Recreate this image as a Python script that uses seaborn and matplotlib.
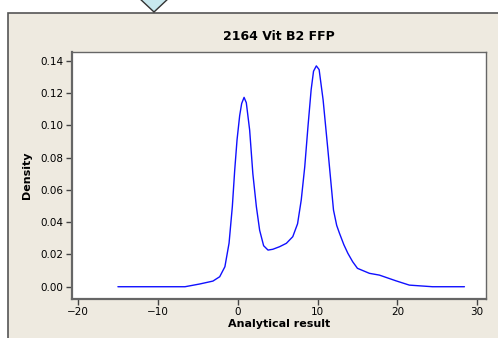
import matplotlib
matplotlib.use("Agg")
import matplotlib.pyplot as plt
from matplotlib.patches import Rectangle, Polygon
import seaborn as sns
import pandas as pd

sns.set_style("white")

# density curve
result = [-15.0, -10.0, -6.6, -4.75, -3.1, -2.25, -1.6, -1.08, -0.67, -0.375, -0.08,
          0.25, 0.5, 0.8, 1.08, 1.5, 1.9, 2.34, 2.75, 3.25, 3.8, 4.4, 5.25, 6.1, 6.9,
          7.5, 7.96, 8.4, 8.8, 9.2, 9.5, 9.85, 10.2, 10.7, 11.3, 12.0, 12.4, 12.75,
          13.3, 13.8, 14.4, 15.0, 16.5, 17.75, 19.8, 21.5, 24.4, 28.4]
density = [0.0, 0.0, 0.0, 0.0017, 0.0035, 0.0062, 0.0124, 0.027, 0.0496, 0.072, 0.091,
           0.106, 0.1135, 0.1173, 0.114, 0.097, 0.070, 0.0496, 0.035, 0.0254, 0.0227,
           0.0232, 0.0248, 0.0269, 0.031, 0.039, 0.0537, 0.0743, 0.099, 0.122, 0.1335,
           0.1368, 0.1345, 0.1157, 0.0847, 0.0475, 0.038, 0.0331, 0.026, 0.0207, 0.0155,
           0.0114, 0.0083, 0.0072, 0.0037, 0.001, 0.0, 0.0]
df = pd.DataFrame({"result": result, "density": density})

W, H = 498, 338
fig = plt.figure(figsize=(W / 100, H / 100), dpi=100)
fig.patch.set_facecolor("white")

# beige panel with dark border, and the diamond marker cut off at the top
fig.patches.append(Rectangle((8 / W, -0.1), 1.0, (H - 13) / H + 0.1, transform=fig.transFigure,
                             facecolor="#EEEAE0", edgecolor="#555555", linewidth=1.2, zorder=-2))
fig.patches.append(Polygon([(134 / W, 1.02), (154 / W, (H - 12) / H), (174 / W, 1.02)],
                           closed=True, transform=fig.transFigure,
                           facecolor="#C8E8EE", edgecolor="#333333", linewidth=1.0, zorder=-1))

ax = fig.add_axes([72 / W, (H - 299) / H, (486 - 72) / W, (299 - 52) / H])
ax.set_zorder(1)
ax.set_facecolor("white")
sns.lineplot(data=df, x="result", y="density", color="#1010FF", linewidth=1.0, ax=ax, sort=False)

ax.set_xlim(-20.75, 31.1)
ax.set_ylim(-0.0076, 0.1454)
ax.set_xticks([-20, -10, 0, 10, 20, 30])
ax.set_yticks([0.0, 0.02, 0.04, 0.06, 0.08, 0.10, 0.12, 0.14])
ax.set_yticklabels([f"{v:.2f}" for v in ax.get_yticks()])
ax.tick_params(axis="both", direction="out", length=4, width=1, color="#444444",
               labelsize=7.5, labelcolor="black", pad=2,
               bottom=True, left=True)

for s in ax.spines.values():
    s.set_color("#666666")
    s.set_linewidth(1.0)
ax.spines["left"].set_linewidth(1.6)
ax.spines["bottom"].set_linewidth(1.6)

ax.set_xlabel("Analytical result", fontsize=8, fontweight="bold", labelpad=1, color="black")
ax.set_ylabel("Density", fontsize=8, fontweight="bold", labelpad=6, color="black")
ax.set_title("2164 Vit B2 FFP", fontsize=9, fontweight="bold", pad=9, color="black")

fig.savefig("out.png", dpi=100)
